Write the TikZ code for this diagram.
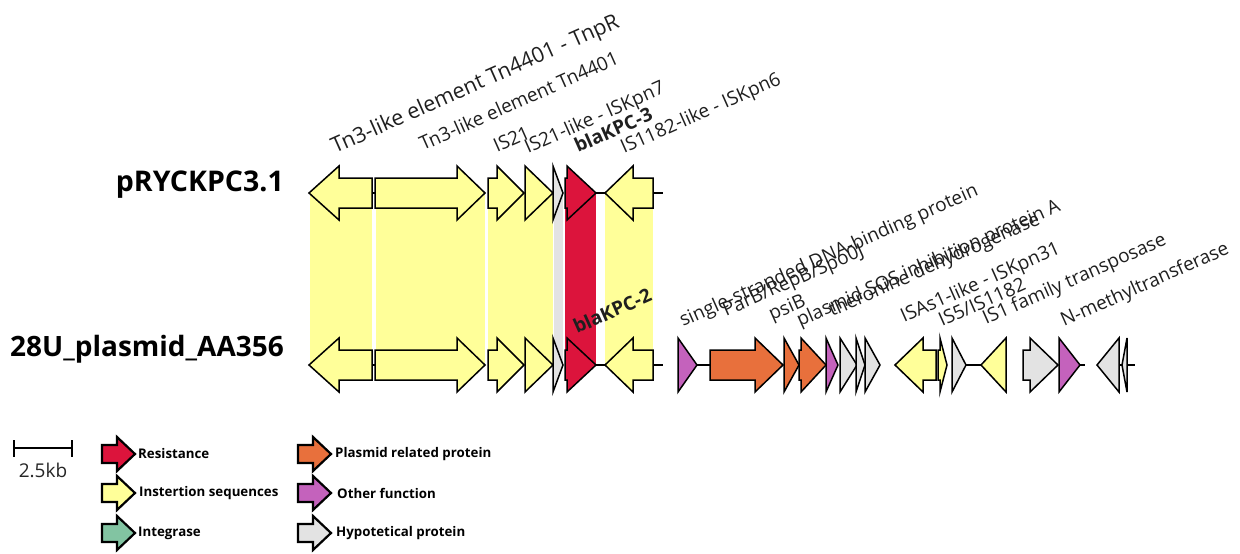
\documentclass[tikz,border=0pt]{standalone}
\usepackage{fontspec}
\setmainfont{Open Sans}
\definecolor{yel}{HTML}{FFFF99}
\definecolor{kred}{HTML}{DC143C}
\definecolor{gry}{HTML}{E3E3E3}
\definecolor{org}{HTML}{E8703C}
\definecolor{pur}{HTML}{C462BC}
\definecolor{grn}{HTML}{82C4A2}
\newcommand\garrow[5]{%
  \draw[genebox,fill=#5] (#1,#4-15) -- (#2,#4-15) -- (#2,#4-27) -- (#3,#4) -- (#2,#4+27) -- (#2,#4+15) -- (#1,#4+15) -- cycle;}
\newcommand\larrow[3]{%
  \draw[legbox,fill=#3] (#1,#2-9) -- (#1+15,#2-9) -- (#1+15,#2-17) -- (#1+33,#2) -- (#1+15,#2+17) -- (#1+15,#2+9) -- (#1,#2+9) -- cycle;}
\tikzset{
  genebox/.style={draw=black,line width=1.5pt,line join=miter},
  legbox/.style={draw=black,line width=2.2pt,line join=miter},
  backbone/.style={draw=black,line width=1.5pt},
  lab/.style={anchor=base west,rotate=24,inner sep=0pt,text=black!88,font=\fontsize{19}{21}\selectfont},
  biglab/.style={lab,font=\fontsize{21.5}{24}\selectfont},
  blab/.style={lab,font=\fontsize{19}{21}\selectfont\bfseries},
  pname/.style={anchor=base east,inner sep=0pt,font=\fontsize{28.5}{31}\selectfont\bfseries},
  pname2/.style={anchor=base east,inner sep=0pt,font=\fontsize{28}{31}\selectfont\bfseries},
  leglab/.style={anchor=west,inner sep=0pt,font=\fontsize{13.3}{15}\selectfont\bfseries},
}
\begin{document}
\begin{tikzpicture}[x=1pt,y=-1pt]
\useasboundingbox (0,0) rectangle (1240,554);
% homology shading
\fill[yel] (310,193) rectangle (372,365);
\fill[yel] (376,193) rectangle (485,365);
\fill[yel] (488,193) rectangle (553,365);
\fill[gry] (554,193) rectangle (563,365);
\fill[kred] (565,193) rectangle (596,365);
\fill[yel] (605,193) rectangle (653,365);
% names
\node[pname] (n1) at (284,191) {pRYCKPC3.1};
\node[pname2] (n2) at (284,356) {28U\_plasmid\_AA356};
% top row
\coordinate (t1) at (372,193); \coordinate (t2) at (375,193);
\coordinate (t3) at (596,193); \coordinate (t4) at (605,193);
\coordinate (t5) at (653,193); \coordinate (t6) at (663,193);
\draw[backbone] (t1) -- (t2) (t3) -- (t4) (t5) -- (t6);
\garrow{372}{339}{309}{193}{yel}
\garrow{375}{457}{485}{193}{yel}
\garrow{488}{497}{524}{193}{yel}
\garrow{525}{525}{553}{193}{yel}
\garrow{553}{553}{563}{193}{gry}
\garrow{565}{567}{596}{193}{kred}
\garrow{653}{633}{605}{193}{yel}
% bottom row
\coordinate (b1) at (372,365); \coordinate (b2) at (375,365);
\coordinate (b3) at (596,365); \coordinate (b4) at (605,365);
\coordinate (b5) at (653,365); \coordinate (b6) at (663,365);
\coordinate (b7) at (697,365); \coordinate (b8) at (710,365);
\coordinate (b9) at (966,365); \coordinate (b10) at (981,365);
\coordinate (b11) at (1080,365); \coordinate (b12) at (1085,365);
\coordinate (b13) at (1119,365); \coordinate (b14) at (1135,365);
\draw[backbone] (b1) -- (b2) (b3) -- (b4) (b5) -- (b6) (b7) -- (b8) (b9) -- (b10) (b11) -- (b12) (b13) -- (b14);
\garrow{372}{339}{309}{365}{yel}
\garrow{375}{457}{485}{365}{yel}
\garrow{488}{497}{524}{365}{yel}
\garrow{525}{525}{553}{365}{yel}
\garrow{553}{553}{563}{365}{gry}
\garrow{565}{567}{596}{365}{kred}
\garrow{653}{633}{605}{365}{yel}
\garrow{678}{678}{697}{365}{pur}
\garrow{710}{755}{783}{365}{org}
\garrow{784}{784}{799}{365}{org}
\garrow{799}{801}{826}{365}{org}
\garrow{826}{826}{838}{365}{pur}
\garrow{840}{840}{857}{365}{gry}
\garrow{856}{856}{865}{365}{gry}
\garrow{865}{865}{880}{365}{gry}
\garrow{936}{923}{895}{365}{yel}
\garrow{938}{940}{947}{365}{yel}
\garrow{952}{952}{966}{365}{gry}
\garrow{1006}{1006}{981}{365}{yel}
\garrow{1023}{1030}{1058}{365}{gry}
\garrow{1059}{1059}{1080}{365}{pur}
\garrow{1119}{1119}{1097}{365}{gry}
\garrow{1127}{1127}{1122}{365}{gry}
% top labels
\node[biglab] (l1) at (335,154) {Tn3-like element Tn4401 - TnpR};
\node[lab] (l2) at (423,151) {Tn3-like element Tn4401};
\node[lab] (l3) at (497,153) {IS21};
\node[lab] (l4) at (528,154) {IS21-like - ISKpn7};
\node[blab] (l5) at (578,153) {blaKPC-3};
\node[lab] (l6) at (624,154) {IS1182-like - ISKpn6};
% bottom labels
\node[blab] (m0) at (577,334) {blaKPC-2};
\node[lab] (m1) at (683,327) {single-stranded DNA-binding protein};
\node[lab] (m2) at (726,317) {ParB/RepB/Spo0J};
\node[lab] (m3) at (772,321) {psiB};
\node[lab] (m4) at (800,327) {plasmid SOS inhibition protein A};
\node[lab] (m5) at (832,317) {theronine dehydrogenase};
\node[lab] (m6) at (904,323) {ISAs1-like - ISKpn31};
\node[lab] (m7) at (942,327) {IS5/IS1182};
\node[lab] (m8) at (986,325) {IS1 family transposase};
\node[lab] (m9) at (1064,327) {N-methyltransferase};
% scale bar
\coordinate (s1) at (14,448); \coordinate (s2) at (72,448);
\draw[line width=1.5pt] (s1) -- (s2);
\draw[line width=1.5pt] (14,440) -- (14,457) (72,440) -- (72,457);
\node[anchor=base,inner sep=0pt,text=black!85,font=\fontsize{19}{21}\selectfont] (sb) at (43,477) {2.5kb};
% legend
\larrow{102}{454}{kred}
\larrow{102}{493}{yel}
\larrow{102}{533}{grn}
\larrow{298}{454}{org}
\larrow{298}{493}{pur}
\larrow{298}{533}{gry}
\node[leglab] (g1) at (138,454) {Resistance};
\node[leglab] (g2) at (139,493) {Instertion sequences};
\node[leglab] (g3) at (138,533) {Integrase};
\node[leglab] (g4) at (335,454) {Plasmid related protein};
\node[leglab] (g5) at (337,493) {Other function};
\node[leglab] (g6) at (336,533) {Hypotetical protein};
\end{tikzpicture}
\end{document}
